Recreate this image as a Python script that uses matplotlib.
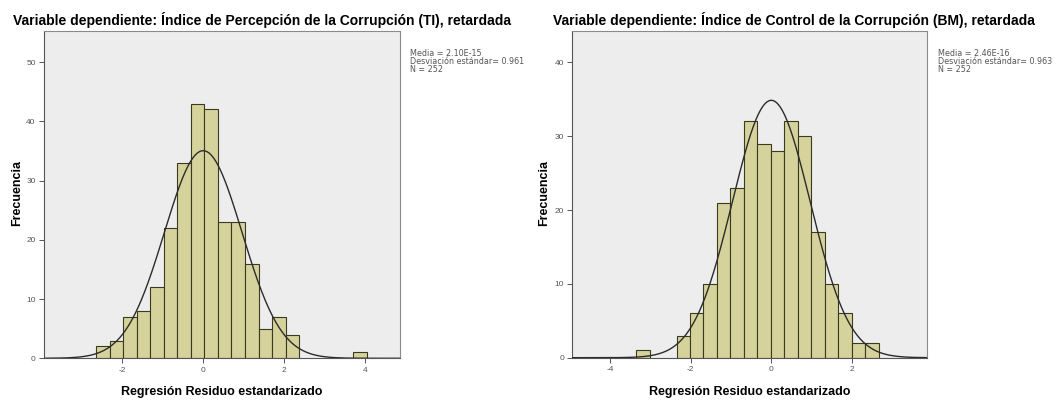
import numpy as np
import matplotlib
matplotlib.use("Agg")
import matplotlib.pyplot as plt

plt.rcParams['font.family'] = ['Liberation Sans', 'DejaVu Sans']
plt.rcParams['axes.unicode_minus'] = False

# ---- Data ----
left_title = "Variable dependiente: Índice de Percepción de la Corrupción (TI), retardada"
left_bin_start = -2.65
left_bin_width = 0.335
left_counts = [2, 3, 7, 8, 12, 22, 33, 43, 42, 23, 23, 16, 5, 7, 4, 0, 0, 0, 0, 1]
left_mean = 0.0
left_sd = 0.961
left_n = 252
left_stats = ["Media = 2.10E-15", "Desviación estándar= 0.961", "N = 252"]
left_xticks = [-2, 0, 2, 4]
left_yticks = [0, 10, 20, 30, 40, 50]
left_xlim = (-3.94, 4.87)
left_ylim = (0, 55.3)

right_title = "Variable dependiente: Índice de Control de la Corrupción (BM), retardada"
right_bin_start = -3.35
right_bin_width = 0.334
right_counts = [1, 0, 0, 3, 6, 10, 21, 23, 32, 29, 28, 32, 30, 17, 10, 6, 2, 2]
right_mean = 0.0
right_sd = 0.963
right_n = 252
right_stats = ["Media = 2.46E-16", "Desviación estándar= 0.963", "N = 252"]
right_xticks = [-4, -2, 0, 2]
right_yticks = [0, 10, 20, 30, 40]
right_xlim = (-4.93, 3.85)
right_ylim = (0, 44.3)

xlabel = "Regresión Residuo estandarizado"
ylabel = "Frecuencia"

BG = "#EDEDED"
BAR = "#D6D29C"
EDGE = "#3A3A1E"

fig = plt.figure(figsize=(10.58, 4.0), dpi=100)
W, H = 1058, 400


def panel(rect, title, title_x, bstart, bw, counts, mean, sd, n, stats,
          xticks, yticks, xlim, ylim, stats_x):
    ax = fig.add_axes(rect)
    ax.set_facecolor(BG)
    edges = bstart + bw * np.arange(len(counts) + 1)
    lefts = edges[:-1]
    c = np.array(counts, dtype=float)
    mask = c > 0
    ax.bar(lefts[mask], c[mask], width=bw, align='edge', color=BAR,
           edgecolor=EDGE, linewidth=0.8, zorder=2)
    xs = np.linspace(xlim[0], xlim[1], 400)
    ys = n * bw / (sd * np.sqrt(2 * np.pi)) * np.exp(-0.5 * ((xs - mean) / sd) ** 2)
    ax.plot(xs, ys, color="#2b2b2b", linewidth=1.0, zorder=3)
    ax.set_xlim(*xlim)
    ax.set_ylim(*ylim)
    ax.set_xticks(xticks)
    ax.set_yticks(yticks)
    ax.tick_params(axis='both', labelsize=6, colors='#555555', length=3.5,
                   width=0.7, pad=2.5)
    for s in ax.spines.values():
        s.set_color('#8a8a8a')
        s.set_linewidth(0.8)
    ax.spines['left'].set_color('#555555')
    ax.spines['bottom'].set_color('#555555')
    ax.set_xlabel(xlabel, fontsize=9, fontweight='bold', labelpad=9)
    fig.text(title_x / W, 1 - 20 / H, title, fontsize=10, fontweight='bold',
             ha='center', va='center')
    fig.text(stats_x / W, 1 - 49 / H, "\n".join(stats), fontsize=5.8,
             family=['DejaVu Sans'], ha='left', va='top', color='#555555',
             linespacing=0.85)
    return ax


axL = panel([44 / W, 1 - 358.3 / H, (400 - 44) / W, (358.3 - 30.7) / H],
            left_title, 262, left_bin_start, left_bin_width, left_counts,
            left_mean, left_sd, left_n, left_stats, left_xticks, left_yticks,
            left_xlim, left_ylim, 410)
axR = panel([572.3 / W, 1 - 357.7 / H, (926.7 - 572.3) / W, (357.7 - 30.7) / H],
            right_title, 794, right_bin_start, right_bin_width, right_counts,
            right_mean, right_sd, right_n, right_stats, right_xticks, right_yticks,
            right_xlim, right_ylim, 938)

fig.text(17 / W, 1 - 193 / H, ylabel, rotation=90, fontsize=9,
         fontweight='bold', ha='center', va='center')
fig.text(544 / W, 1 - 193 / H, ylabel, rotation=90, fontsize=9,
         fontweight='bold', ha='center', va='center')

fig.savefig("out.png", dpi=100, facecolor='white')
